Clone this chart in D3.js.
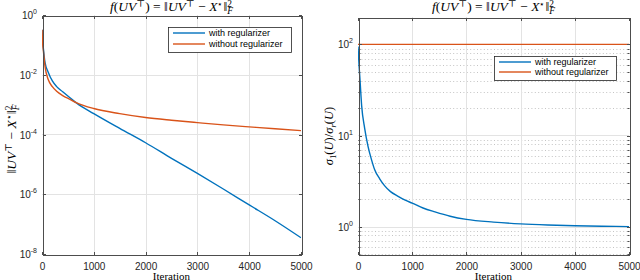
<!DOCTYPE html>
<html><head><meta charset="utf-8">
<script src="https://cdn.jsdelivr.net/npm/d3@7"></script>
<style>body{margin:0;background:#fff}svg{display:block}</style>
</head><body><svg id="c" width="640" height="280"></svg>
<script>
// ---------- data ----------
const iterTicks = [0, 1000, 2000, 3000, 4000, 5000];
const leftYTicks = [1e-8, 1e-6, 1e-4, 1e-2, 1e0];
const leftYTickExp = ['-8', '-6', '-4', '-2', '0'];
const rightYTicks = [1e0, 1e1, 1e2];
const rightYTickExp = ['0', '1', '2'];
const seriesNames = ['with regularizer', 'without regularizer'];
const seriesColors = ['#0072BD', '#D95319'];

const errIter = [0, 10, 25, 58, 122, 200, 283, 400, 540, 670, 1000, 1500, 2000, 2500, 3000, 3500, 4000, 4500, 5000];
const errWith = [0.32, 0.15, 0.08, 0.026, 0.012, 0.0062, 0.004, 0.0027, 0.0017, 0.00112, 5.0e-4, 1.6e-4, 5.3e-5, 1.6e-5, 5.0e-6, 1.5e-6, 4.4e-7, 1.3e-7, 3.5e-8];
const errWithout = [0.32, 0.13, 0.068, 0.019, 0.0068, 0.0040, 0.0028, 0.0020, 0.0015, 0.00115, 7.4e-4, 5.0e-4, 3.7e-4, 3.0e-4, 2.5e-4, 2.1e-4, 1.8e-4, 1.55e-4, 1.35e-4];

const condIter = [0, 20, 37, 68, 123, 185, 250, 308, 400, 493, 600, 740, 870, 1000, 1200, 1420, 1700, 2000, 2500, 3000, 3500, 4000, 4500, 5000];
const condWith = [95, 58, 41, 21, 12, 7.6, 5.4, 4.2, 3.35, 2.8, 2.42, 2.15, 1.95, 1.81, 1.6, 1.45, 1.3, 1.2, 1.12, 1.07, 1.04, 1.02, 1.01, 1.0];
const condWithout = [100, 100, 100, 100, 100, 100, 100, 100, 100, 100, 100, 100, 100, 100, 100, 100, 100, 100, 100, 100, 100, 100, 100, 100];

// ---------- helpers ----------
const svg = d3.select('#c');
const AX = '#4d4d4d', TXT = '#262626', GRID = '#e3e3e3';
const SANS = 'Liberation Sans, Arial, Helvetica, sans-serif';
const SERIF = 'Liberation Serif, DejaVu Serif, Times New Roman, serif';

function drawMath(parent, tokens, size) {
  const g = parent.append('g').attr('font-family', SERIF).attr('fill', '#000');
  let x = 0, stackStart = 0;
  tokens.forEach(tk => {
    const pos = tk.pos || 'base';
    const fs = pos === 'base' ? size : size * 0.7;
    const dy = pos === 'sup' ? -size * 0.33 : pos === 'sub' ? size * 0.25 : 0;
    const px = tk.stack ? stackStart : x;
    const t = g.append('text').attr('x', px).attr('y', dy)
      .attr('font-size', fs).attr('font-style', tk.i ? 'italic' : 'normal')
      .style('white-space', 'pre').text(tk.t);
    const w = t.node().getComputedTextLength();
    if (tk.stack) { x = Math.max(x, px + w); } else { stackStart = px; x = px + w; }
  });
  g.selectAll('text').attr('x', function () { return +this.getAttribute('x') - x / 2; });
  return g;
}

const titleTokens = [
  {t: 'f', i: 1}, {t: '('}, {t: 'UV', i: 1}, {t: '⊤', pos: 'sup'}, {t: ') = ‖'},
  {t: 'UV', i: 1}, {t: '⊤', pos: 'sup'}, {t: ' − '}, {t: 'X', i: 1}, {t: '⋆', pos: 'sup'},
  {t: '‖'}, {t: '2', pos: 'sup'}, {t: 'F', pos: 'sub', i: 1, stack: 1}
];
const leftYLabelTokens = [
  {t: '‖'}, {t: 'UV', i: 1}, {t: '⊤', pos: 'sup'}, {t: ' − '}, {t: 'X', i: 1}, {t: '⋆', pos: 'sup'},
  {t: '‖'}, {t: '2', pos: 'sup'}, {t: 'F', pos: 'sub', i: 1, stack: 1}
];
const rightYLabelTokens = [
  {t: 'σ', i: 1}, {t: '1', pos: 'sub'}, {t: '('}, {t: 'U', i: 1}, {t: ')/'},
  {t: 'σ', i: 1}, {t: 'r', pos: 'sub', i: 1}, {t: '('}, {t: 'U', i: 1}, {t: ')'}
];

function panel(opts) {
  const {x0, x1, y0, y1, yDomain, yTicks, yTickExp, iter, ys, minor, legend, yLabel, yLabelX, yLabelY, yLabelSize, id} = opts;
  const xs = d3.scaleLinear().domain([0, 5000]).range([x0, x1]);
  const yS = d3.scaleLog().domain(yDomain).range([y1, y0]);
  const g = svg.append('g');

  // minor dotted grid
  if (minor) {
    const mv = [];
    for (let e = -1; e <= 2; e++) for (let k = 2; k <= 9; k++) {
      const v = k * Math.pow(10, e);
      if (v > yDomain[0] * 0.999 && v < yDomain[1] * 0.999) mv.push(v);
    }
    g.selectAll('line.mg').data(mv).join('line')
      .attr('x1', x0).attr('x2', x1)
      .attr('y1', d => Math.round(yS(d)) + 0.5).attr('y2', d => Math.round(yS(d)) + 0.5)
      .attr('stroke', '#c4c4c4').attr('stroke-width', 1).attr('stroke-dasharray', '1,2.4');
    [x0, x1].forEach((ax, j) => {
      g.selectAll('line.mt' + j).data(mv).join('line')
        .attr('x1', ax + 0.5).attr('x2', ax + 0.5 + (j ? -2 : 2))
        .attr('y1', d => Math.round(yS(d)) + 0.5).attr('y2', d => Math.round(yS(d)) + 0.5)
        .attr('stroke', AX);
    });
  }
  // major grid
  g.selectAll('line.gx').data(iterTicks.slice(1, -1)).join('line')
    .attr('x1', d => Math.round(xs(d)) + 0.5).attr('x2', d => Math.round(xs(d)) + 0.5)
    .attr('y1', y0).attr('y2', y1).attr('stroke', GRID);
  g.selectAll('line.gy').data(yTicks.filter(v => v > yDomain[0] && v < yDomain[1])).join('line')
    .attr('x1', x0).attr('x2', x1)
    .attr('y1', d => Math.round(yS(d)) + 0.5).attr('y2', d => Math.round(yS(d)) + 0.5)
    .attr('stroke', GRID);

  // lines
  const clipId = 'clip' + id;
  svg.append('clipPath').attr('id', clipId).append('rect')
    .attr('x', x0).attr('y', y0).attr('width', x1 - x0).attr('height', y1 - y0);
  const line = d3.line().x(d => xs(d[0])).y(d => yS(d[1])).curve(d3.curveMonotoneX);
  ys.forEach((arr, k) => {
    g.append('path').attr('clip-path', `url(#${clipId})`)
      .attr('d', line(iter.map((it, i) => [it, arr[i]])))
      .attr('fill', 'none').attr('stroke', seriesColors[k]).attr('stroke-width', 1.4);
  });

  // axes (ticks inside)
  const xb = g.append('g').attr('transform', `translate(0,${y1 + 0.5})`)
    .call(d3.axisBottom(xs).tickValues(iterTicks).tickSizeInner(-3).tickSizeOuter(0).tickPadding(8).tickFormat(d3.format('d')));
  const xt = g.append('g').attr('transform', `translate(0,${y0 + 0.5})`)
    .call(d3.axisTop(xs).tickValues(iterTicks).tickSizeInner(-3).tickSizeOuter(0).tickFormat(''));
  const yl = g.append('g').attr('transform', `translate(${x0 + 0.5},0)`)
    .call(d3.axisLeft(yS).tickValues(yTicks).tickSizeInner(-3).tickSizeOuter(0).tickFormat(''));
  const yr = g.append('g').attr('transform', `translate(${x1 + 0.5},0)`)
    .call(d3.axisRight(yS).tickValues(yTicks).tickSizeInner(-3).tickSizeOuter(0).tickFormat(''));
  [xb, xt, yl, yr].forEach(a => {
    a.select('.domain').attr('stroke', AX);
    a.selectAll('.tick line').attr('stroke', AX);
    a.attr('shape-rendering', 'crispEdges');
  });
  xb.selectAll('.tick text').attr('font-family', SANS).attr('font-size', 10).attr('fill', TXT);

  // y tick labels with superscripts
  yTicks.forEach((v, i) => {
    const t = g.append('text').attr('x', x0 - 5).attr('y', yS(v) + 4)
      .attr('text-anchor', 'end').attr('font-family', SANS).attr('font-size', 10).attr('fill', TXT);
    t.append('tspan').text('10');
    t.append('tspan').attr('dy', -5).attr('font-size', 7).text(yTickExp[i]);
  });

  // title
  drawMath(svg.append('g').attr('transform', `translate(${(x0 + x1) / 2},11)`), titleTokens, 13.5);
  // x label
  svg.append('text').attr('x', (x0 + x1) / 2).attr('y', 280).attr('text-anchor', 'middle')
    .attr('font-family', SERIF).attr('font-size', 11).attr('fill', '#000').text('Iteration');
  // y label
  drawMath(svg.append('g').attr('transform', `translate(${yLabelX},${yLabelY}) rotate(-90)`), yLabel, yLabelSize);

  // legend
  const L = legend;
  const lg = svg.append('g');
  lg.append('rect').attr('x', L.x + 0.5).attr('y', L.y + 0.5).attr('width', L.w).attr('height', L.h)
    .attr('fill', '#fff').attr('stroke', '#262626').attr('stroke-width', 0.8);
  seriesNames.forEach((name, k) => {
    const yy = L.y + L.first + k * L.step;
    lg.append('line').attr('x1', L.x + 5).attr('x2', L.x + 37).attr('y1', yy).attr('y2', yy)
      .attr('stroke', seriesColors[k]).attr('stroke-width', 1.4);
    lg.append('text').attr('x', L.x + 41).attr('y', yy + 3.3).attr('font-family', SANS)
      .attr('font-size', 9).attr('fill', '#000').text(name);
  });
}

panel({id: 'L', x0: 42, x1: 301, y0: 15, y1: 254, yDomain: [1e-8, 1], yTicks: leftYTicks, yTickExp: leftYTickExp,
  iter: errIter, ys: [errWith, errWithout], minor: false,
  legend: {x: 168, y: 27, w: 123, h: 25, first: 6, step: 11},
  yLabel: leftYLabelTokens, yLabelX: 16, yLabelY: 139, yLabelSize: 13.5});
panel({id: 'R', x0: 358, x1: 629, y0: 17, y1: 254, yDomain: [0.5, 200], yTicks: rightYTicks, yTickExp: rightYTickExp,
  iter: condIter, ys: [condWith, condWithout], minor: true,
  legend: {x: 494, y: 56, w: 122, h: 24, first: 6, step: 10},
  yLabel: rightYLabelTokens, yLabelX: 333, yLabelY: 136, yLabelSize: 12.5});
</script></body></html>
